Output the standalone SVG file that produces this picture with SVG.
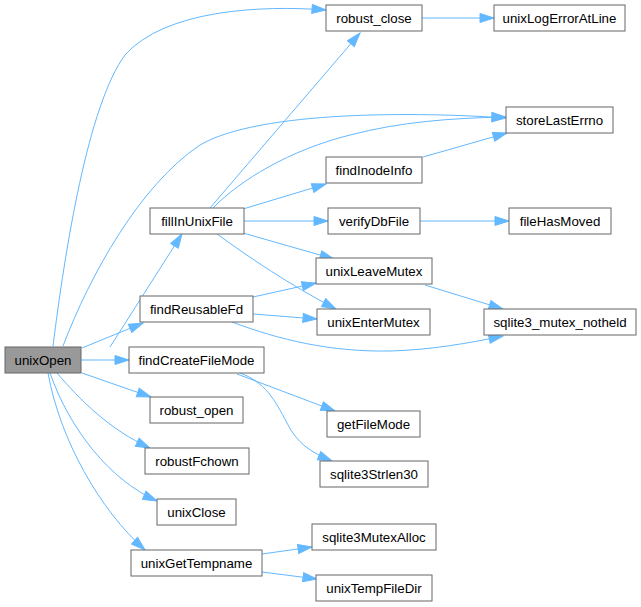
<svg xmlns="http://www.w3.org/2000/svg" width="641" height="607" viewBox="0 0 641 607">
<style>
.n rect{fill:#fff;stroke:#666;stroke-width:1}
.n text{font-family:"Liberation Sans",Arial,sans-serif;font-size:13.3px;text-anchor:middle;fill:#000}
#unixOpen rect{fill:#999}
.e path{fill:none;stroke:#63b8ff;stroke-width:1;marker-end:url(#ah)}
</style>
<defs>
<marker id="ah" markerUnits="userSpaceOnUse" markerWidth="16" markerHeight="12" refX="15" refY="5.5" orient="auto">
<path d="M1,1 L15,5.5 L1,10 z" fill="#63b8ff" stroke="#63b8ff" stroke-width="1"/>
</marker>
</defs>
<rect width="641" height="607" fill="#fff"/>
<g id="edges" class="e">
<path d="M53,346 C65,250 88,105 125,55 C165,10 260,5 326,10"/>
<path d="M63,346 C90,275 140,185 200,145 C260,110 420,112 506,118"/>
<path d="M110,347 L182,234"/>
<path d="M82,348 L143,323"/>
<path d="M81,360 L129,360"/>
<path d="M82,373 L151,397"/>
<path d="M57,373 C80,400 110,430 150,448"/>
<path d="M50,373 C70,430 110,480 157,501"/>
<path d="M48,373 C60,440 100,510 145,550"/>
<path d="M210,208 L360,33"/>
<path d="M213,208 C240,180 290,150 350,135 C400,122 450,118 506,117"/>
<path d="M243,209 L326,184"/>
<path d="M244,221 L328,221"/>
<path d="M243,233 L334,259"/>
<path d="M217,234 C250,258 290,285 336,309"/>
<path d="M253,297 L316,283"/>
<path d="M253,314 L317,319"/>
<path d="M232,322 C280,340 330,352 390,351 C430,350 470,343 503,336"/>
<path d="M425,285 L503,309"/>
<path d="M237,374 L335,411"/>
<path d="M240,373 C265,382 275,400 287,423 C297,443 310,452 332,461"/>
<path d="M262,554 L312,547"/>
<path d="M262,572 L317,579"/>
<path d="M422,18 L494,18"/>
<path d="M423,157 L507,133"/>
<path d="M420,221 L509,221"/>
</g>
<g id="unixOpen" class="n"><rect x="5" y="347" width="76" height="26"/><text x="43" y="365">unixOpen</text></g>
<g id="fillInUnixFile" class="n"><rect x="150" y="208" width="94" height="26"/><text x="197" y="226">fillInUnixFile</text></g>
<g id="findReusableFd" class="n"><rect x="140" y="296" width="113" height="26"/><text x="196.5" y="314">findReusableFd</text></g>
<g id="findCreateFileMode" class="n"><rect x="129" y="347" width="135" height="26"/><text x="196.5" y="365">findCreateFileMode</text></g>
<g id="robust_open" class="n"><rect x="150" y="397" width="93" height="26"/><text x="196.5" y="415">robust_open</text></g>
<g id="robustFchown" class="n"><rect x="145" y="448" width="104" height="26"/><text x="197" y="466">robustFchown</text></g>
<g id="unixClose" class="n"><rect x="157" y="499" width="79" height="26"/><text x="196.5" y="517">unixClose</text></g>
<g id="unixGetTempname" class="n"><rect x="131" y="550" width="131" height="26"/><text x="196.5" y="568">unixGetTempname</text></g>
<g id="robust_close" class="n"><rect x="326" y="5" width="96" height="26"/><text x="374" y="23">robust_close</text></g>
<g id="unixLogErrorAtLine" class="n"><rect x="494" y="5" width="131" height="26"/><text x="559.5" y="23">unixLogErrorAtLine</text></g>
<g id="storeLastErrno" class="n"><rect x="506" y="107" width="107" height="26"/><text x="559.5" y="125">storeLastErrno</text></g>
<g id="findInodeInfo" class="n"><rect x="326" y="157" width="96" height="26"/><text x="374" y="175">findInodeInfo</text></g>
<g id="verifyDbFile" class="n"><rect x="328" y="208" width="92" height="26"/><text x="374" y="226">verifyDbFile</text></g>
<g id="fileHasMoved" class="n"><rect x="509" y="208" width="102" height="26"/><text x="560" y="226">fileHasMoved</text></g>
<g id="unixLeaveMutex" class="n"><rect x="316" y="258" width="116" height="26"/><text x="374" y="276">unixLeaveMutex</text></g>
<g id="unixEnterMutex" class="n"><rect x="317" y="309" width="113" height="26"/><text x="373.5" y="327">unixEnterMutex</text></g>
<g id="sqlite3_mutex_notheld" class="n"><rect x="484" y="309" width="152" height="26"/><text x="560" y="327">sqlite3_mutex_notheld</text></g>
<g id="getFileMode" class="n"><rect x="327" y="411" width="93" height="26"/><text x="373.5" y="429">getFileMode</text></g>
<g id="sqlite3Strlen30" class="n"><rect x="320" y="461" width="108" height="26"/><text x="374" y="479">sqlite3Strlen30</text></g>
<g id="sqlite3MutexAlloc" class="n"><rect x="312" y="524" width="124" height="26"/><text x="374" y="542">sqlite3MutexAlloc</text></g>
<g id="unixTempFileDir" class="n"><rect x="316" y="575" width="116" height="26"/><text x="374" y="593">unixTempFileDir</text></g>
</svg>
